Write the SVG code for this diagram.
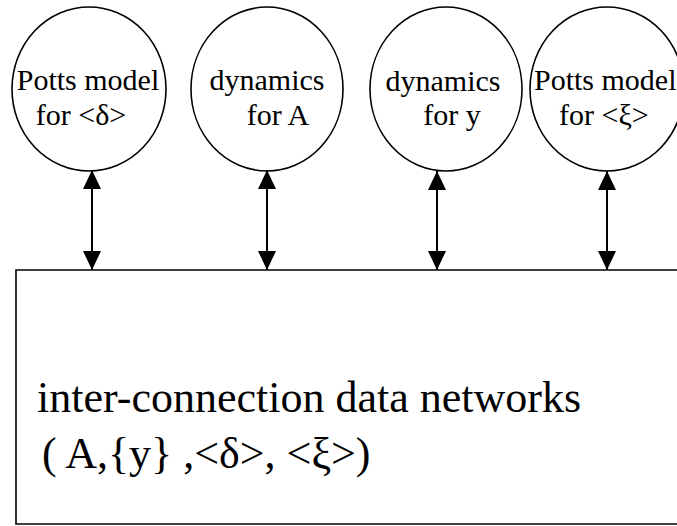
<svg xmlns="http://www.w3.org/2000/svg" width="677" height="526" viewBox="0 0 677 526">
  <style>
    .node { fill: none; stroke: #000; stroke-width: 1.6; }
    .lbl { font-family: "Liberation Serif", "Times New Roman", serif; font-size: 30px; fill: #000; }
    .big { font-family: "Liberation Serif", "Times New Roman", serif; font-size: 44px; fill: #000; }
    .link { stroke: #000; stroke-width: 2; fill: none; marker-start: url(#tipUp); marker-end: url(#tipDown); }
  </style>
  <defs>
    <!-- solid triangular heads, fixed orientation so both ends point outward -->
    <marker id="tipDown" markerUnits="userSpaceOnUse" markerWidth="18" markerHeight="19" viewBox="0 0 18 19" refX="9" refY="19" orient="0">
      <path d="M0,0 L18,0 L9,19 Z" fill="#000"/>
    </marker>
    <marker id="tipUp" markerUnits="userSpaceOnUse" markerWidth="18" markerHeight="19" viewBox="0 0 18 19" refX="9" refY="0" orient="0">
      <path d="M9,0 L18,19 L0,19 Z" fill="#000"/>
    </marker>
  </defs>
  <rect width="677" height="526" fill="#fff"/>

  <g id="potts-delta">
    <ellipse class="node" cx="89" cy="89" rx="77" ry="82"/>
    <text class="lbl" x="88" y="90" text-anchor="middle">Potts model</text>
    <text class="lbl" x="81" y="125" text-anchor="middle">for &lt;δ&gt;</text>
  </g>
  <g id="dynamics-A">
    <ellipse class="node" cx="267" cy="89" rx="76" ry="82"/>
    <text class="lbl" x="267" y="90" text-anchor="middle">dynamics</text>
    <text class="lbl" x="278" y="125" text-anchor="middle">for A</text>
  </g>
  <g id="dynamics-y">
    <ellipse class="node" cx="446" cy="89" rx="76" ry="82"/>
    <text class="lbl" x="443" y="91" text-anchor="middle">dynamics</text>
    <text class="lbl" x="452" y="125" text-anchor="middle">for y</text>
  </g>
  <g id="potts-xi">
    <ellipse class="node" cx="607" cy="89" rx="77" ry="82"/>
    <text class="lbl" x="534" y="90">Potts model</text>
    <text class="lbl" x="559" y="125">for &lt;ξ&gt;</text>
  </g>

  <g id="networks">
    <path class="node" stroke-width="2" d="M680,270 H16 V524 H680"/>
    <text class="big" x="37" y="412">inter-connection data networks</text>
    <text class="big" x="42" y="468">( A,{y} ,&lt;δ&gt;, &lt;ξ&gt;)</text>
  </g>

  <g id="connectors">
    <line class="link" x1="92" y1="170" x2="92" y2="270"/>
    <line class="link" x1="267" y1="170" x2="267" y2="270"/>
    <line class="link" x1="437" y1="171" x2="437" y2="270"/>
    <line class="link" x1="607" y1="171" x2="607" y2="270"/>
  </g>
</svg>
